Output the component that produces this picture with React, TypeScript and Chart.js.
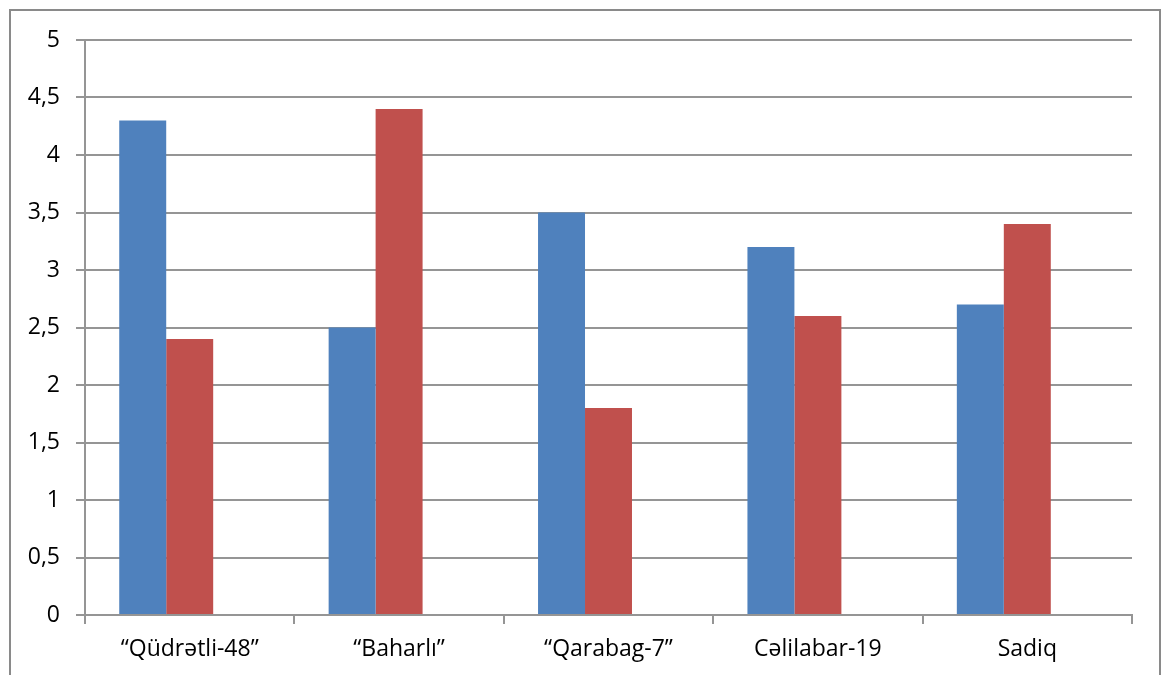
import React, { useEffect, useRef } from "react";
import { Chart, registerables } from "chart.js";

Chart.register(...registerables);

const categories = ["“Qüdrətli-48”", "“Baharlı”", "“Qarabag-7”", "Cəlilabar-19", "Sadiq"];
const seriesBlue = [4.3, 2.5, 3.5, 3.2, 2.7];
const seriesRed = [2.4, 4.4, 1.8, 2.6, 3.4];
// third series slot is left empty, so the pairs sit left of each category centre
const seriesEmpty = [null, null, null, null, null];
const yTicks = [0, 0.5, 1, 1.5, 2, 2.5, 3, 3.5, 4, 4.5, 5];

const FONT = "'Open Sans', sans-serif";
const GRID = "#959595";

const frame = {
  id: "frame",
  afterDraw(chart: any) {
    const ctx = chart.ctx;
    ctx.save();
    ctx.strokeStyle = "#8a8a8a";
    ctx.lineWidth = 2;
    ctx.strokeRect(10, 10, 1150, 700);
    ctx.restore();
  },
};

export default function App() {
  const ref = useRef<HTMLCanvasElement>(null);

  useEffect(() => {
    document.body.style.margin = "0";
    const chart = new Chart(ref.current!, {
      type: "bar",
      data: {
        labels: categories,
        datasets: [
          { label: "A", data: seriesBlue, backgroundColor: "#4F81BD", borderWidth: 0 },
          { label: "B", data: seriesRed, backgroundColor: "#C0504D", borderWidth: 0 },
          { label: "", data: seriesEmpty, backgroundColor: "transparent", borderWidth: 0 },
        ],
      },
      options: {
        animation: false,
        responsive: false,
        maintainAspectRatio: false,
        layout: { padding: { left: 0, right: 31, top: 40, bottom: 0 } },
        plugins: { legend: { display: false }, tooltip: { enabled: false } },
        datasets: { bar: { categoryPercentage: 0.673, barPercentage: 1 } },
        scales: {
          x: {
            offset: true,
            grid: {
              offset: true,
              drawOnChartArea: false,
              drawTicks: true,
              tickLength: 9,
              color: GRID,
              lineWidth: 2,
            },
            border: { color: GRID, width: 2 },
            ticks: {
              color: "#000",
              font: { family: FONT, size: 23 },
              padding: 12,
              maxRotation: 0,
              autoSkip: false,
            },
            afterFit(scale: any) {
              scale.height = 60;
            },
          },
          y: {
            min: 0,
            max: 5,
            afterBuildTicks(scale: any) {
              scale.ticks = yTicks.map((v) => ({ value: v }));
            },
            grid: { color: GRID, lineWidth: 2, tickLength: 9, drawTicks: true },
            border: { color: GRID, width: 2 },
            ticks: {
              color: "#000",
              font: { family: FONT, size: 23 },
              padding: 16,
              callback: (v: any) => String(v).replace(".", ","),
            },
            afterFit(scale: any) {
              scale.width = 85;
            },
          },
        },
      },
      plugins: [frame],
    });
    return () => chart.destroy();
  }, []);

  return (
    <div style={{ width: 1163, height: 675, position: "relative", background: "#fff" }}>
      <canvas ref={ref} width={1163} height={675} style={{ display: "block" }} />
    </div>
  );
}
